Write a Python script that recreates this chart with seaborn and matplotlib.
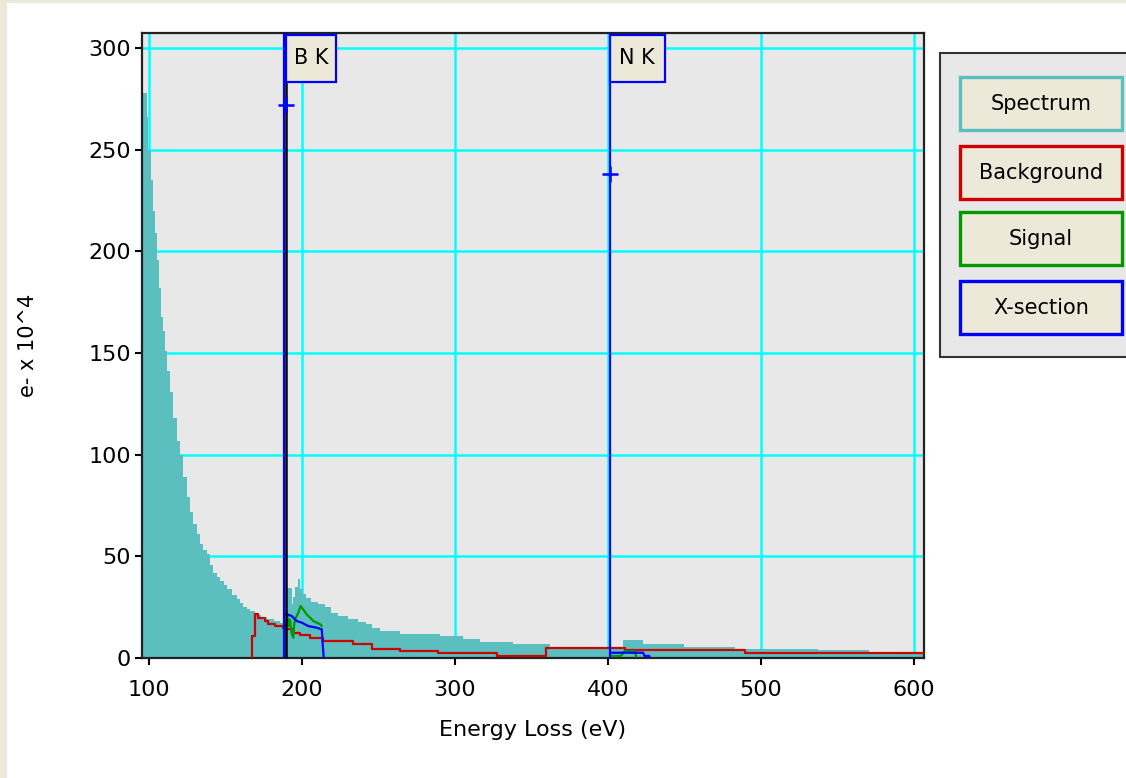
import numpy as np
import pandas as pd
import matplotlib
matplotlib.use("Agg")
import matplotlib.pyplot as plt
from matplotlib.patches import Rectangle
import matplotlib.transforms as mtransforms
import seaborn as sns

# ---------------- data ----------------
spec_energy = [95.5, 98.8, 99.4, 101.4, 102.7, 104.0, 105.3, 106.6, 107.9, 109.2, 110.6, 111.9,
               113.9, 115.8, 118.4, 120.3, 122.3, 124.9, 126.9, 128.8, 131.4, 133.4, 135.4, 138.0,
               140.0, 141.9, 144.5, 146.5, 149.1, 151.1, 154.3, 157.6, 159.6, 161.5, 164.1, 166.1,
               169.4, 173.3, 177.2, 181.8, 185.7, 189.6, 193.5, 194.2, 195.5, 197.5, 198.8, 200.7,
               202.7, 206.0, 210.5, 215.1, 219.0, 223.6, 230.1, 236.7, 241.9, 245.8, 251.1, 264.1,
               290.3, 305.3, 316.4, 338.0, 362.2, 400.1, 409.9, 423.0, 449.8, 483.1, 537.4, 570.8,
               606.6]
spec_counts = [278, 266, 250, 235, 220, 209, 196, 182, 168, 161, 151, 141,
               131, 118, 107, 100, 89, 79, 72, 66, 61, 56, 53, 51,
               46, 42, 40, 38, 36, 34, 31, 29, 27, 25, 24, 23,
               21, 20, 19, 18, 17, 34.5, 26.6, 30, 35, 39, 34, 31.5,
               29.5, 27.5, 26.6, 25, 22, 20.5, 19, 17.5, 16.6, 14.9, 13.3, 11.7,
               10.8, 9.2, 7.9, 6.7, 5.4, 5.1, 8.9, 7.0, 5.6, 4.3, 4.0, 3.0,
               3.0]

bg_energy = [167.2, 167.2, 169.4, 171.5, 175.9, 178.0, 182.4, 187.9, 189.6, 194.4, 198.8, 205.3,
             214.0, 233.6, 245.8, 264.1, 289.2, 327.3, 359.5, 410.9, 489.6, 606.6]
bg_counts = [0, 10.8, 21.6, 19.8, 18.2, 16.6, 15.7, 14.9, 14.1, 12.5, 11.3, 10.0,
             8.4, 6.7, 4.3, 3.4, 2.6, 1.0, 5.1, 3.8, 2.6, 2.6]

sig_b_energy = [189.5, 190.5, 191.3, 192.2, 193.3, 194.4, 194.9, 195.5, 197.5, 199.2, 203.1, 207.5, 212.0, 213.0]
sig_b_counts = [14, 20.6, 15.7, 19, 12, 10, 16, 19, 22, 25.6, 21.5, 18.2, 16.6, 15.7]
sig_n_energy = [401.5, 408.5, 410.9, 417.5, 418.5]
sig_n_counts = [1.0, 1.0, 3.4, 3.4, 0.8]

xs_b_energy = [189.4, 190.1, 193.3, 196.6, 199.9, 204.2, 209.7, 213.0, 213.6, 214.3]
xs_b_counts = [21.5, 21.5, 20.7, 18.2, 17.4, 15.7, 14.9, 14.1, 6.7, 0]
xs_n_energy = [401.5, 423.0, 424.0, 427.0, 427.5]
xs_n_counts = [2.6, 2.6, 1.0, 1.0, 0]

edge_labels = ["B K", "N K"]
edge_energy = [189.3, 401.2]
edge_marker_counts = [272, 238]

x_ticks = [100, 200, 300, 400, 500, 600]
y_ticks = [0, 50, 100, 150, 200, 250, 300]
legend_labels = ["Spectrum", "Background", "Signal", "X-section"]

# ---------------- style ----------------
sns.set_style("white")
plt.rcParams["font.family"] = ["DejaVu Sans"]
plt.rcParams["text.color"] = "black"
plt.rcParams["axes.labelcolor"] = "black"

TEAL = "#5BBFBF"
RED = "#D00000"
GREEN = "#009900"
BLUE = "#0000FF"
BEIGE = "#ECE9D8"
CYAN = "#00FFFF"
legend_colors = [TEAL, RED, GREEN, BLUE]

W, H = 1126, 778
fig = plt.figure(figsize=(W / 100, H / 100), dpi=100)
fig.patch.set_facecolor("white")

# background overlay in pixel coords
bgax = fig.add_axes([0, 0, 1, 1], zorder=-5)
bgax.set_xlim(0, W)
bgax.set_ylim(H, 0)
bgax.axis("off")
bgax.add_patch(Rectangle((0, 0), 7, H, color=BEIGE, lw=0))
bgax.add_patch(Rectangle((0, 0), W, 2.5, color=BEIGE, lw=0))

L, R, T, B = 142, 924, 33, 658
ax = fig.add_axes([L / W, 1 - B / H, (R - L) / W, (B - T) / H])
ax.set_facecolor("#E8E8E8")
ax.set_xlim(95.5, 606.6)
ax.set_ylim(0, 307.5)
ax.set_axisbelow(True)
ax.grid(True, color=CYAN, lw=1.8)
ax.set_xticks(x_ticks)
ax.set_yticks(y_ticks)
ax.tick_params(axis="both", direction="out", length=5, width=1.5, labelsize=16,
               colors="black", left=True, bottom=True)
ax.tick_params(axis="y", pad=3)
ax.tick_params(axis="x", pad=11)
for s in ax.spines.values():
    s.set_color("#222222")
    s.set_linewidth(1.6)

# spectrum
ax.fill_between(spec_energy, spec_counts, 0, step="post", color=TEAL, lw=0, zorder=2)

df_bg = pd.DataFrame({"E": bg_energy, "C": bg_counts})
sns.lineplot(data=df_bg, x="E", y="C", ax=ax, color=RED, lw=1.6, estimator=None,
             sort=False, drawstyle="steps-post", zorder=3)
for e, c, col in [(sig_b_energy, sig_b_counts, GREEN), (sig_n_energy, sig_n_counts, GREEN),
                  (xs_b_energy, xs_b_counts, BLUE), (xs_n_energy, xs_n_counts, BLUE)]:
    d = pd.DataFrame({"E": e, "C": c})
    sns.lineplot(data=d, x="E", y="C", ax=ax, color=col, lw=1.6, estimator=None,
                 sort=False, zorder=4)

# edge lines
ax.axvline(edge_energy[0] - 1.3, color=BLUE, lw=1.6, zorder=5)
ax.axvline(edge_energy[0], color="black", lw=1.8, zorder=6)
ax.axvline(edge_energy[1], color=BLUE, lw=1.6, zorder=5)
ax.plot(edge_energy, edge_marker_counts, linestyle="none", marker="+", ms=11, mew=1.8,
        color=BLUE, zorder=7)

# edge label boxes
trans = mtransforms.blended_transform_factory(ax.transData, ax.transAxes)
box_w = [33, 36]
for lab, e, w in zip(edge_labels, edge_energy, box_w):
    ax.add_patch(Rectangle((e, 0.9216), w, 0.9968 - 0.9216, transform=trans,
                           facecolor=BEIGE, edgecolor=BLUE, lw=1.6, zorder=8, clip_on=False))
    ax.text(e + w / 2, (0.9216 + 0.9968) / 2, lab, transform=trans, ha="center",
            va="center", fontsize=15, color="black", zorder=9)

ax.set_xlabel("Energy Loss (eV)", fontsize=16, labelpad=14, color="black")
ax.set_ylabel("e- x 10^4", fontsize=15, labelpad=36, color="black")

# legend panel (pixel coordinates)
bgax.set_zorder(10)
bgax.patch.set_alpha(0)
bgax.add_patch(Rectangle((940, 53), 200, 304, facecolor="#E8E8E8", edgecolor="#333333", lw=1.5))
btn_tops = [77, 146, 212, 281]
for lab, col, top in zip(legend_labels, legend_colors, btn_tops):
    bgax.add_patch(Rectangle((960, top), 162, 53, facecolor=BEIGE, edgecolor=col, lw=2.4))
    bgax.text(1041, top + 27, lab, ha="center", va="center", fontsize=15, color="black")

fig.savefig("out.png", dpi=100)
